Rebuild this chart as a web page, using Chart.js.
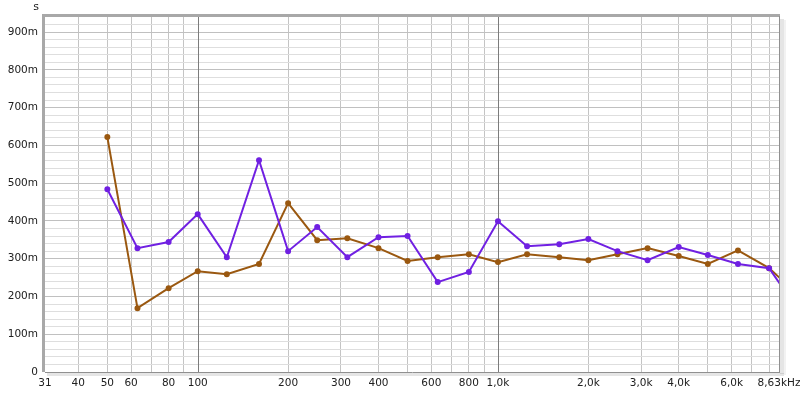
<!DOCTYPE html>
<html>
<head>
<meta charset="utf-8">
<script src="https://cdn.jsdelivr.net/npm/chart.js@4"></script>
<style>
  html, body { margin: 0; padding: 0; background: #fff; }
  #wrap { width: 800px; height: 396px; position: relative; }
</style>
</head>
<body>
<div id="wrap"><canvas id="myChart" width="800" height="396"></canvas></div>
<script>
// 1/3 octave bands (Hz)
const freqs = [50, 63, 80, 100, 125, 160, 200, 250, 315, 400, 500, 630, 800,
  1000, 1250, 1600, 2000, 2500, 3150, 4000, 5000, 6300, 8000, 10000];
// seconds
const purpleVals = [0.484, 0.328, 0.344, 0.418, 0.304, 0.561, 0.320, 0.384, 0.304, 0.357, 0.360, 0.238, 0.265,
  0.399, 0.333, 0.338, 0.352, 0.320, 0.296, 0.331, 0.310, 0.286, 0.275, 0.164];
const brownVals = [0.622, 0.169, 0.222, 0.267, 0.259, 0.286, 0.447, 0.349, 0.354, 0.328, 0.294, 0.304, 0.312,
  0.291, 0.312, 0.304, 0.296, 0.312, 0.328, 0.307, 0.286, 0.322, 0.275, 0.204];

// x grid lines and the ones that get a label
const xGrid = [31, 40, 50, 60, 70, 80, 90, 100, 200, 300, 400, 500, 600, 700, 800, 900,
  1000, 2000, 3000, 4000, 5000, 6000, 7000, 8000, 8630];
const xDecades = [100, 1000];
const xLabels = { 31: "31", 40: "40", 50: "50", 60: "60", 80: "80", 100: "100", 200: "200",
  300: "300", 400: "400", 600: "600", 800: "800", 1000: "1,0k", 2000: "2,0k", 3000: "3,0k",
  4000: "4,0k", 6000: "6,0k", 8630: "8,63kHz" };
const yLabels = ["0", "100m", "200m", "300m", "400m", "500m", "600m", "700m", "800m", "900m"];

const toPoints = (vals) => freqs.map((f, i) => ({ x: f, y: vals[i] }));

const frame = {
  id: "frame",
  beforeDatasetsDraw(chart) {
    // decade lines drawn on top of the horizontal grid
    const { ctx, chartArea: a, scales } = chart;
    ctx.save();
    ctx.strokeStyle = "#7c7c7c";
    ctx.lineWidth = 1;
    ctx.beginPath();
    xDecades.forEach((v) => {
      const x = Math.round(scales.x.getPixelForValue(v)) + 0.5;
      ctx.moveTo(x, a.top);
      ctx.lineTo(x, a.bottom);
    });
    ctx.stroke();
    ctx.restore();
  },
  afterDraw(chart) {
    const { ctx, chartArea: a } = chart;
    ctx.save();
    // soft shadow right and bottom
    ctx.fillStyle = "rgba(0,0,0,0.10)";
    ctx.fillRect(a.right + 1, a.top + 2, 4, a.bottom - a.top);
    ctx.fillRect(a.left + 2, a.bottom + 1, a.right - a.left + 3, 3);
    ctx.fillStyle = "rgba(0,0,0,0.05)";
    ctx.fillRect(a.right + 5, a.top + 3, 2, a.bottom - a.top);
    // left and top bevel
    ctx.strokeStyle = "#a8a8a8";
    ctx.lineWidth = 3;
    ctx.beginPath();
    ctx.moveTo(a.left - 1.5, a.bottom);
    ctx.lineTo(a.left - 1.5, a.top - 1.5);
    ctx.lineTo(a.right + 1, a.top - 1.5);
    ctx.stroke();
    ctx.strokeStyle = "#909090";
    ctx.lineWidth = 1;
    ctx.beginPath();
    ctx.moveTo(a.left, a.bottom + 0.5);
    ctx.lineTo(a.right + 1, a.bottom + 0.5);
    ctx.moveTo(a.right + 0.5, a.top - 1);
    ctx.lineTo(a.right + 0.5, a.bottom + 1);
    ctx.stroke();
    // unit label
    ctx.fillStyle = "#202020";
    ctx.font = "11px 'DejaVu Sans'";
    ctx.textAlign = "center";
    ctx.textBaseline = "middle";
    ctx.fillText("s", 36, 7);
    ctx.restore();
  }
};

const ctx = document.querySelector("#myChart").getContext("2d");

new Chart(ctx, {
  type: "line",
  data: {
    datasets: [
      {
        label: "A",
        data: toPoints(purpleVals),
        borderColor: "#7020e2",
        backgroundColor: "#7020e2",
        borderWidth: 2,
        pointRadius: 2,
        pointHoverRadius: 2,
        clip: 0,
      },
      {
        label: "B",
        data: toPoints(brownVals),
        borderColor: "#9a5810",
        backgroundColor: "#9a5810",
        borderWidth: 2,
        pointRadius: 2,
        pointHoverRadius: 2,
        clip: 0,
      },
    ],
  },
  options: {
    responsive: false,
    animation: false,
    events: [],
    layout: { padding: { top: 17, right: 21, left: 0, bottom: 0 } },
    plugins: { legend: { display: false }, tooltip: { enabled: false } },
    scales: {
      x: {
        type: "logarithmic",
        min: 31,
        max: 8630,
        afterBuildTicks: (scale) => {
          scale.ticks = xGrid.map((v) => ({ value: v }));
        },
        afterFit: (scale) => {
          scale.height = 24;
          scale.paddingLeft = 0;
          scale.paddingRight = 0;
        },
        border: { display: false },
        grid: {
          drawTicks: false,
          color: (c) => {
            const v = c.tick && c.tick.value;
            if (v === 31 || v === 8630 || xDecades.includes(v)) return "rgba(0,0,0,0)";
            return "#c4c4c4";
          },
        },
        ticks: {
          autoSkip: false,
          maxRotation: 0,
          padding: 5,
          color: "#202020",
          font: { family: "DejaVu Sans", size: 10.5 },
          callback: (v) => xLabels[v] || "",
        },
      },
      y: {
        min: 0,
        max: 0.94,
        afterBuildTicks: (scale) => {
          const t = [];
          for (let i = 0; i <= 47; i++) t.push({ value: i * 0.02 });
          scale.ticks = t;
        },
        afterFit: (scale) => {
          scale.width = 45;
          scale.paddingTop = 0;
          scale.paddingBottom = 0;
        },
        border: { display: false },
        grid: {
          drawTicks: false,
          color: (c) => {
            const i = Math.round((c.tick ? c.tick.value : 0) / 0.02);
            if (i === 0) return "rgba(0,0,0,0)";
            return i % 5 === 0 ? "#c0c0c0" : "#dedede";
          },
        },
        ticks: {
          autoSkip: false,
          padding: 7,
          color: "#202020",
          font: { family: "DejaVu Sans", size: 10.5 },
          callback: (v) => {
            const i = Math.round(v / 0.02);
            return i % 5 === 0 ? yLabels[i / 5] || "" : "";
          },
        },
      },
    },
  },
  plugins: [frame],
});
</script>
</body>
</html>
